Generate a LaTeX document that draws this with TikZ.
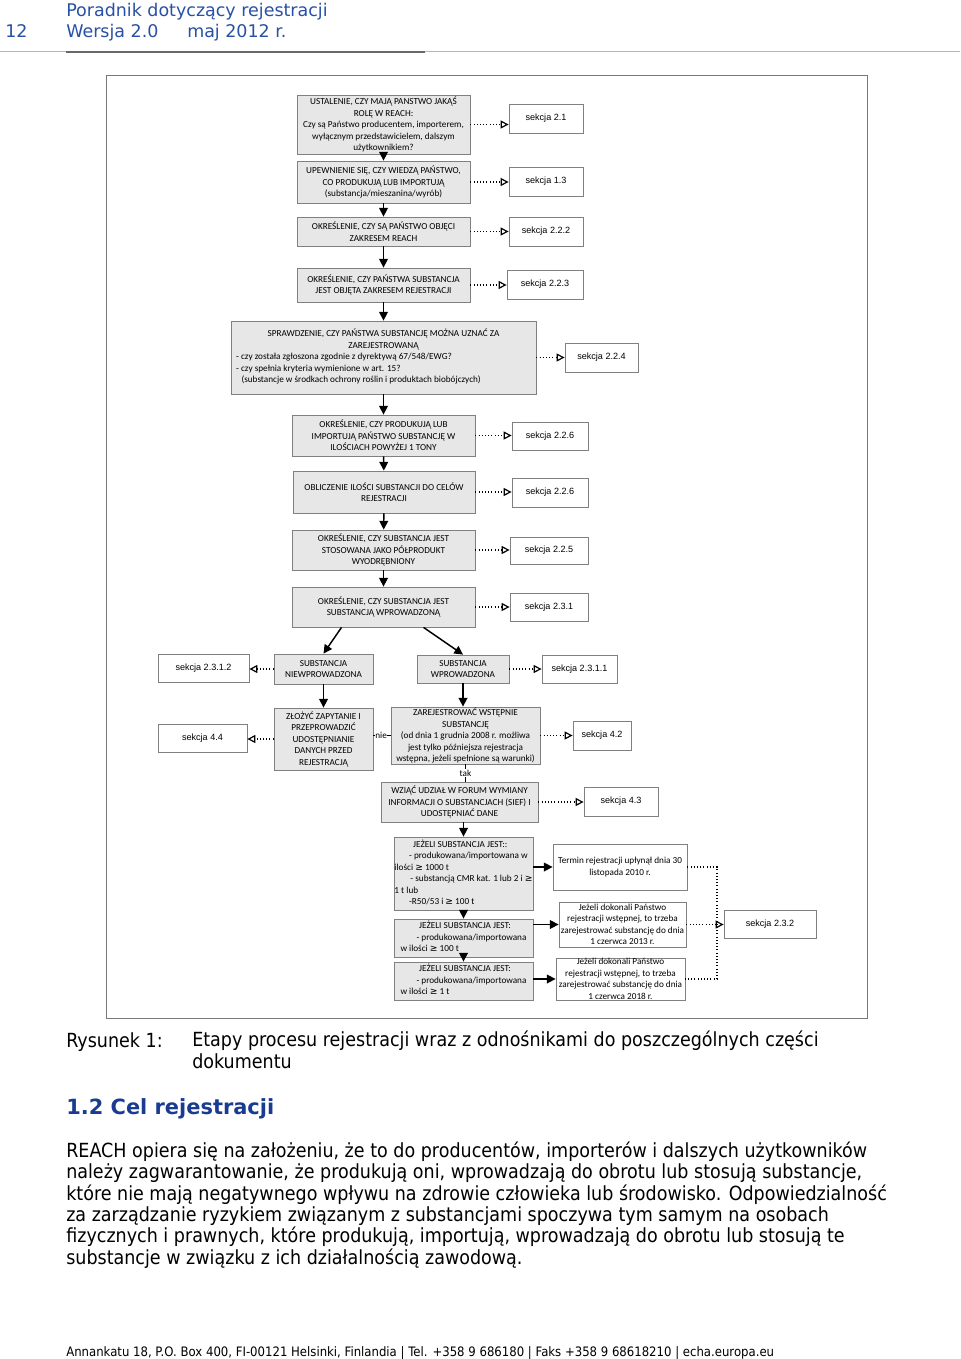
\documentclass[tikz,border=0pt]{standalone}
\usepackage{fontspec}
\setmainfont{DejaVu Sans}
\newfontfamily\boxfont{Carlito}
\newfontfamily\sekfont{Liberation Sans}
\newfontfamily\tahfont[FakeStretch=0.9]{DejaVu Sans}
\newfontfamily\dvsymb{DejaVu Sans}
\newcommand{\gesym}{{\dvsymb ≥}}
\usetikzlibrary{arrows.meta,calc}

\definecolor{echablue}{RGB}{40,80,165}
\definecolor{headblue}{RGB}{25,60,145}
\definecolor{boxfill}{RGB}{231,231,231}
\definecolor{boxline}{RGB}{128,128,128}
\definecolor{ramka}{RGB}{120,120,120}
\definecolor{rulelight}{RGB}{165,185,210}
\definecolor{ruledark}{RGB}{105,105,105}

\tikzset{
  boxsize/.style 2 args={minimum width=#1*0.75pt,minimum height=#2*0.75pt},
  krok/.style={draw=boxline,fill=boxfill,line width=0.6pt,inner sep=0pt,align=center,
    font=\boxfont\fontsize{6.9}{8.6}\selectfont},
  uwaga/.style={krok,fill=white},
  sekcja/.style={draw=boxline,fill=white,line width=0.6pt,inner sep=0pt,
    font=\sekfont\fontsize{6.8}{8}\selectfont},
  strzalka/.style={line width=1.1pt,-{Triangle[length=6.5pt,width=6.5pt]}},
  kropki/.style={line width=0.8pt,dash pattern=on 0.8pt off 1.6pt},
  odsylacz/.style={kropki,-{Triangle[open,length=6pt,width=6pt,line width=0.9pt]}},
  etykieta/.style={fill=white,inner sep=0.4pt,font=\boxfont\fontsize{6.9}{8}\selectfont},
  tekst/.style={inner sep=0pt,anchor=base west},
  glowka/.style={tekst,text=echablue,font=\fontsize{13.1}{15}\selectfont},
  tresc/.style={tekst,font=\tahfont\fontsize{14.6}{16}\selectfont}
}

\begin{document}
\begin{tikzpicture}[x=0.75pt,y=-0.75pt]

\useasboundingbox (0,0) rectangle (960,1359);
\fill[white] (0,0) rectangle (960,1359);

% naglowek strony
\node[glowka] (strona) at (5,38) {12};
\node[glowka] (tytul) at (66,17) {Poradnik dotyczący rejestracji};
\node[glowka] (wersja) at (66,38) {Wersja 2.0};
\node[glowka] (data) at (187,38) {maj 2012 r.};
\draw[rulelight,line width=0.75pt] (0,52) -- (960,52);
\draw[ruledark,line width=1.5pt] (66,52) -- (425,52);

% ramka rysunku
\draw[ramka,line width=0.6pt] (106,75) rectangle (867,1018);

% glowna kolumna
\node[krok,boxsize={173}{59}] (rola) at (383.5,124.5)
  {USTALENIE, CZY MAJĄ PANSTWO JAKĄŚ\\ROLĘ W REACH:\\Czy są Państwo producentem, importerem,\\wyłącznym przedstawicielem, dalszym\\użytkownikiem?};
\node[krok,boxsize={173}{42}] (wiedza) at (383.5,182)
  {UPEWNIENIE SIĘ, CZY WIEDZĄ PAŃSTWO,\\CO PRODUKUJĄ LUB IMPORTUJĄ\\(substancja/mieszanina/wyrób)};
\node[krok,boxsize={173}{29}] (zakres) at (383.5,231.5)
  {OKREŚLENIE, CZY SĄ PAŃSTWO OBJĘCI\\ZAKRESEM REACH};
\node[krok,boxsize={173}{34}] (objeta) at (383.5,285)
  {OKREŚLENIE, CZY PAŃSTWA SUBSTANCJA\\JEST OBJĘTA ZAKRESEM REJESTRACJI};
\node[krok,boxsize={305}{73}] (zarej) at (383.5,357.5)
  {\begin{tabular}{@{}p{221pt}@{}}
   \multicolumn{1}{@{}c@{}}{SPRAWDZENIE, CZY PAŃSTWA SUBSTANCJĘ MOŻNA UZNAĆ ZA}\\
   \multicolumn{1}{@{}c@{}}{ZAREJESTROWANĄ}\\
   - czy została zgłoszona zgodnie z dyrektywą 67/548/EWG?\\
   - czy spełnia kryteria wymienione w art. 15?\\
   \hspace*{4pt}(substancje w środkach ochrony roślin i produktach biobójczych)
   \end{tabular}};
\node[krok,boxsize={183}{41}] (tona) at (383.5,435.5)
  {OKREŚLENIE, CZY PRODUKUJĄ LUB\\IMPORTUJĄ PAŃSTWO SUBSTANCJĘ W\\ILOŚCIACH POWYŻEJ 1 TONY};
\node[krok,boxsize={182}{42}] (oblicz) at (384,492)
  {OBLICZENIE ILOŚCI SUBSTANCJI DO CELÓW\\REJESTRACJI};
\node[krok,boxsize={183}{40}] (polprod) at (383.5,550)
  {OKREŚLENIE, CZY SUBSTANCJA JEST\\STOSOWANA JAKO PÓŁPRODUKT\\WYODRĘBNIONY};
\node[krok,boxsize={183}{40}] (wprow) at (383.5,607)
  {OKREŚLENIE, CZY SUBSTANCJA JEST\\SUBSTANCJĄ WPROWADZONĄ};

% rozgalezienie
\node[krok,boxsize={99}{30}] (niewpr) at (323.5,669) {SUBSTANCJA\\NIEWPROWADZONA};
\node[krok,boxsize={92}{28}] (wpr) at (463,669) {SUBSTANCJA\\WPROWADZONA};
\node[krok,boxsize={99}{62}] (zapyt) at (323.5,739)
  {ZŁOŻYĆ ZAPYTANIE I\\PRZEPROWADZIĆ\\UDOSTĘPNIANIE\\DANYCH PRZED\\REJESTRACJĄ};
\node[krok,boxsize={149}{57}] (wstep) at (465.5,735.5)
  {ZAREJESTROWAĆ WSTĘPNIE\\SUBSTANCJĘ\\(od dnia 1 grudnia 2008 r. możliwa\\jest tylko późniejsza rejestracja\\wstępna, jeżeli spełnione są warunki)};
\node[krok,boxsize={157}{40}] (sief) at (459.5,802)
  {WZIĄĆ UDZIAŁ W FORUM WYMIANY\\INFORMACJI O SUBSTANCJACH (SIEF) I\\UDOSTĘPNIAĆ DANE};

% progi ilosciowe
\node[krok,boxsize={139}{73}] (jezeli1) at (463.5,873.5)
  {\begin{tabular}{@{}l@{}}
   \hspace*{14pt}JEŻELI SUBSTANCJA JEST::\\
   \hspace*{11pt}- produkowana/importowana w\\
   ilości \gesym{} 1000 t\\
   \hspace*{12pt}- substancją CMR kat. 1 lub 2 i \gesym\\
   1 t lub\\
   \hspace*{11pt}-R50/53 i \gesym{} 100 t
   \end{tabular}};
\node[krok,boxsize={139}{38}] (jezeli2) at (463.5,938)
  {\begin{tabular}{@{}l@{}}
   \hspace*{14pt}JEŻELI SUBSTANCJA JEST:\\
   \hspace*{12pt}- produkowana/importowana\\
   w ilości \gesym{} 100 t
   \end{tabular}};
\node[krok,boxsize={139}{38}] (jezeli3) at (463.5,981)
  {\begin{tabular}{@{}l@{}}
   \hspace*{14pt}JEŻELI SUBSTANCJA JEST:\\
   \hspace*{12pt}- produkowana/importowana\\
   w ilości \gesym{} 1 t
   \end{tabular}};
\node[uwaga,boxsize={134}{46}] (termin) at (620,867)
  {Termin rejestracji upłynął dnia 30\\listopada 2010 r.};
\node[uwaga,boxsize={127}{45}] (rok2013) at (622.5,924.5)
  {Jeżeli dokonali Państwo\\rejestracji wstępnej, to trzeba\\zarejestrować substancję do dnia\\1 czerwca 2013 r.};
\node[uwaga,boxsize={129}{42}] (rok2018) at (620.5,979)
  {Jeżeli dokonali Państwo\\rejestracji wstępnej, to trzeba\\zarejestrować substancję do dnia\\1 czerwca 2018 r.};

% odnosniki do sekcji
\node[sekcja,boxsize={74}{29}] (s21) at (546,118.5) {sekcja 2.1};
\node[sekcja,boxsize={74}{29}] (s13) at (546,181.5) {sekcja 1.3};
\node[sekcja,boxsize={74}{29}] (s222) at (546,231.5) {sekcja 2.2.2};
\node[sekcja,boxsize={76}{29}] (s223) at (545,284.5) {sekcja 2.2.3};
\node[sekcja,boxsize={73}{29}] (s224) at (601.5,357.5) {sekcja 2.2.4};
\node[sekcja,boxsize={76}{28}] (s226a) at (550,436) {sekcja 2.2.6};
\node[sekcja,boxsize={76}{29}] (s226b) at (550,492.5) {sekcja 2.2.6};
\node[sekcja,boxsize={78}{27}] (s225) at (549,550.5) {sekcja 2.2.5};
\node[sekcja,boxsize={78}{28}] (s231) at (549,607) {sekcja 2.3.1};
\node[sekcja,boxsize={91}{28}] (s2312) at (203.5,668) {sekcja 2.3.1.2};
\node[sekcja,boxsize={75}{28}] (s2311) at (579.5,669) {sekcja 2.3.1.1};
\node[sekcja,boxsize={89}{28}] (s44) at (202.5,738) {sekcja 4.4};
\node[sekcja,boxsize={58}{29}] (s42) at (602,735.5) {sekcja 4.2};
\node[sekcja,boxsize={74}{29}] (s43) at (621,801.5) {sekcja 4.3};
\node[sekcja,boxsize={92}{28}] (s232) at (770,924) {sekcja 2.3.2};
\coordinate (zbieg) at (717,979);

% przejscia
\draw[strzalka] (rola) -- (wiedza);
\draw[strzalka] (wiedza) -- (zakres);
\draw[strzalka] (zakres) -- (objeta);
\draw[strzalka] (objeta) -- (zarej);
\draw[strzalka] (zarej) -- (tona);
\draw[strzalka] (tona) -- (oblicz);
\draw[strzalka] (oblicz) -- (polprod);
\draw[strzalka] (polprod) -- (wprow);
\draw[strzalka] ($(wprow.south)+(-42,0)$) -- (niewpr.north);
\draw[strzalka] ($(wprow.south)+(40,0)$) -- (wpr.north);
\draw[strzalka] (niewpr) -- (zapyt);
\draw[strzalka] (wpr.south) -- (wpr.south |- wstep.north);
\draw[line width=0.8pt] (wstep.west) -- (wstep.west -| zapyt.east)
  node[etykieta,pos=0.55] (nie) {nie};
\draw[line width=0.8pt] (wstep.south) -- (wstep.south |- sief.north)
  node[etykieta,midway] (tak) {tak};
\draw[strzalka] (sief.south -| jezeli1.north) -- (jezeli1.north);
\draw[strzalka] (jezeli1) -- (jezeli2);
\draw[strzalka] (jezeli2) -- (jezeli3);
\draw[strzalka] (termin.west -| jezeli1.east) -- (termin.west);
\draw[strzalka] (rok2013.west -| jezeli2.east) -- (rok2013.west);
\draw[strzalka] (rok2018.west -| jezeli3.east) -- (rok2018.west);

% odsylacze kropkowane
\draw[odsylacz] (rola.east) -- (rola.east -| s21.west);
\draw[odsylacz] (wiedza.east) -- (wiedza.east -| s13.west);
\draw[odsylacz] (zakres.east) -- (zakres.east -| s222.west);
\draw[odsylacz] (objeta.east) -- (objeta.east -| s223.west);
\draw[odsylacz] (zarej.east) -- (zarej.east -| s224.west);
\draw[odsylacz] (tona.east) -- (tona.east -| s226a.west);
\draw[odsylacz] (oblicz.east) -- (oblicz.east -| s226b.west);
\draw[odsylacz] (polprod.east) -- (polprod.east -| s225.west);
\draw[odsylacz] (wprow.east) -- (wprow.east -| s231.west);
\draw[odsylacz] (niewpr.west) -- (niewpr.west -| s2312.east);
\draw[odsylacz] (wpr.east) -- (wpr.east -| s2311.west);
\draw[odsylacz] (zapyt.west) -- (zapyt.west -| s44.east);
\draw[odsylacz] (wstep.east) -- (wstep.east -| s42.west);
\draw[odsylacz] (sief.east) -- (sief.east -| s43.west);
\draw[kropki] (termin.east) -| (zbieg) -- (rok2018.east);
\draw[odsylacz] (rok2013.east) -- (rok2013.east -| s232.west);

% podpis i tekst (kotwica base = ostatni wiersz)
\node[tresc] (rys) at (66,1047) {Rysunek 1:};
\node[tresc,align=left] (podpis) at (192,1068)
  {Etapy procesu rejestracji wraz z odnośnikami do poszczególnych części\\dokumentu};
\node[tekst,text=headblue,font=\bfseries\fontsize{15.7}{18}\selectfont] (rozdzial) at (66,1114)
  {1.2 Cel rejestracji};
\node[tresc,align=left] (akapit) at (66,1264)
  {REACH opiera się na założeniu, że to do producentów, importerów i dalszych użytkowników\\
   należy zagwarantowanie, że produkują oni, wprowadzają do obrotu lub stosują substancje,\\
   które nie mają negatywnego wpływu na zdrowie człowieka lub środowisko. Odpowiedzialność\\
   za zarządzanie ryzykiem związanym z substancjami spoczywa tym samym na osobach\\
   fizycznych i prawnych, które produkują, importują, wprowadzają do obrotu lub stosują te\\
   substancje w związku z ich działalnością zawodową.};
\node[tekst,font=\tahfont\fontsize{9.75}{11}\selectfont] (stopka) at (66,1356)
  {Annankatu 18, P.O. Box 400, FI-00121 Helsinki, Finlandia | Tel. +358 9 686180 | Faks +358 9 68618210 | echa.europa.eu};
\end{tikzpicture}
\end{document}
